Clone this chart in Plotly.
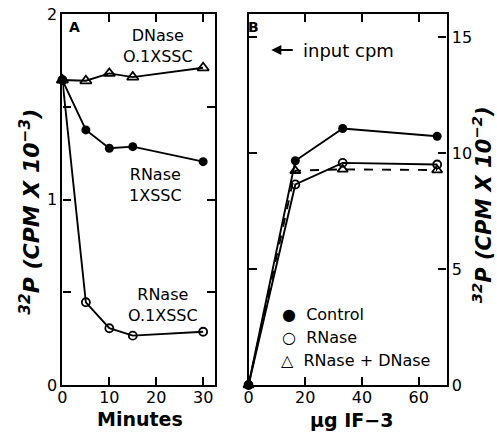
import plotly.graph_objects as go

# Panel A data (Minutes vs 32P CPM x 10^-3)
minutes = [0, 5, 10, 15, 30]
dnase_01ssc = [1.644, 1.64, 1.68, 1.66, 1.71]
rnase_1ssc = [1.644, 1.375, 1.276, 1.285, 1.204]
rnase_01ssc = [1.644, 0.446, 0.306, 0.266, 0.287]

# Panel B data (ug IF-3 vs 32P CPM x 10^-2)
if3_ug = [0, 16.5, 33.2, 66.5]
control = [0, 9.67, 11.06, 10.73]
rnase = [0, 8.65, 9.58, 9.51]
rnase_dnase = [0, 9.24, 9.30, 9.27]

FONT = "DejaVu Sans"
W, H = 497, 435
L_A, R_A, L_B, R_B = 58, 212, 246, 446
TOP, BOT = 14, 385

fig = go.Figure()
lw = 1.9
fig.add_trace(go.Scatter(x=minutes, y=dnase_01ssc, mode="lines+markers",
    line=dict(color="black", width=lw),
    marker=dict(symbol="triangle-up-open", size=10, color="black", line=dict(width=1.8)),
    xaxis="x", yaxis="y", cliponaxis=False))
fig.add_trace(go.Scatter(x=minutes, y=rnase_1ssc, mode="lines+markers",
    line=dict(color="black", width=lw),
    marker=dict(symbol="circle", size=9, color="black"),
    xaxis="x", yaxis="y", cliponaxis=False))
fig.add_trace(go.Scatter(x=minutes, y=rnase_01ssc, mode="lines+markers",
    line=dict(color="black", width=lw),
    marker=dict(symbol="circle-open", size=8, color="black", line=dict(width=1.8)),
    xaxis="x", yaxis="y", cliponaxis=False))

fig.add_trace(go.Scatter(x=if3_ug, y=rnase_dnase, mode="lines+markers",
    line=dict(color="black", width=lw, dash="dash"),
    marker=dict(symbol="triangle-up-open", size=9, color="black", line=dict(width=1.8)),
    xaxis="x2", yaxis="y2", cliponaxis=False))
fig.add_trace(go.Scatter(x=if3_ug, y=rnase, mode="lines+markers",
    line=dict(color="black", width=lw),
    marker=dict(symbol="circle-open", size=8, color="black", line=dict(width=1.8)),
    xaxis="x2", yaxis="y2", cliponaxis=False))
fig.add_trace(go.Scatter(x=if3_ug, y=control, mode="lines+markers",
    line=dict(color="black", width=lw),
    marker=dict(symbol="circle", size=9, color="black"),
    xaxis="x2", yaxis="y2", cliponaxis=False))

axis_common = dict(showline=True, linecolor="black", linewidth=2.2, mirror="ticks",
                   ticks="inside", ticklen=8, tickwidth=2, tickcolor="black",
                   showgrid=False, zeroline=False,
                   tickfont=dict(family=FONT, size=16, color="black"))

fig.update_layout(
    width=W, height=H, margin=dict(l=0, r=0, t=TOP, b=H - BOT),
    plot_bgcolor="white", paper_bgcolor="white", showlegend=False,
    font=dict(family=FONT, color="black"),
    xaxis=dict(domain=[L_A / W, R_A / W], range=[0, 32.5], ticklabelstandoff=-3,
               tickvals=[0, 10, 20, 30], anchor="y", **axis_common),
    yaxis=dict(domain=[0, 1], range=[0, 2], tickvals=[0, 0.5, 1, 1.5, 2],
               ticktext=["0", "", "1", "", "2"], anchor="x", **axis_common),
    xaxis2=dict(domain=[L_B / W, R_B / W], range=[0, 69.8], ticklabelstandoff=-3,
                tickvals=[0, 20, 40, 60], anchor="y2", **axis_common),
    yaxis2=dict(domain=[0, 1], range=[0, 16], tickvals=[0, 5, 10, 15],
                side="right", anchor="x2", **axis_common),
)

def ann(text, x, y, size=16, xanchor="center", yanchor="middle", **kw):
    fig.add_annotation(text=text, x=x, y=y, xref="paper", yref="paper", showarrow=False,
                       xanchor=xanchor, yanchor=yanchor,
                       font=dict(family=FONT, size=size, color="black"), **kw)

px = lambda p: p / W
py = lambda p: (BOT - p) / (BOT - TOP)

# panel letters
ann("<b>A</b>", px(70), py(27), size=14)
ann("<b>B</b>", px(251), py(27), size=14)

# Panel A labels
ann("DNase<br>O.1XSSC", px(155), py(46), align="center")
ann("RNase<br>1XSSC", px(152), py(185), align="center")
ann("RNase<br>O.1XSSC", px(160), py(305), align="center")

# Panel B labels
fig.add_annotation(x=px(269), y=py(50), xref="paper", yref="paper",
                   ax=23, ay=0, axref="pixel", ayref="pixel",
                   text="", showarrow=True, arrowhead=2, arrowsize=1,
                   arrowwidth=2, arrowcolor="black")
ann("input cpm", px(299), py(50), size=18, xanchor="left")
ann("\u25cf  Control", px(278), py(314), xanchor="left")
ann("\u25cb  RNase", px(278), py(337), xanchor="left")
ann("\u25b3  RNase + DNase", px(277), py(360), xanchor="left")

# axis titles
ann("<b>Minutes</b>", px(136), py(419), size=19)
ann("<b>\u03bcg IF\u22123</b>", px(350), py(420), size=19)
ann("<b><i><sup>32</sup>P (CPM X 10<sup>\u22123</sup>)</i></b>", px(25), py(212), size=22, textangle=-90)
ann("<b><i><sup>32</sup>P (CPM X 10<sup>\u22122</sup>)</i></b>", px(482), py(205), size=21, textangle=-90)

fig.write_html("out.html")
